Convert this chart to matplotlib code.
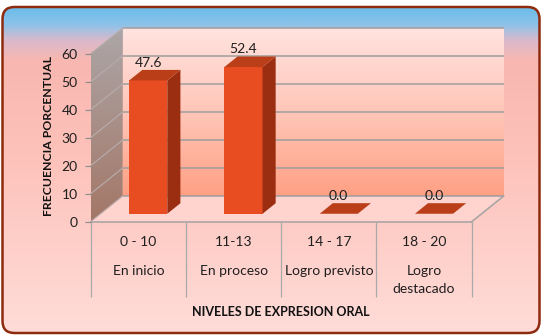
import numpy as np
import matplotlib
matplotlib.use('Agg')
import matplotlib.pyplot as plt
from matplotlib.patches import Polygon, FancyBboxPatch
from matplotlib.colors import LinearSegmentedColormap
import matplotlib.transforms as mtrans

# ---------------- data ----------------
categories = ["0 - 10", "11-13", "14 - 17", "18 - 20"]
levels = ["En inicio", "En proceso", "Logro previsto", "Logro\ndestacado"]
values = [47.6, 52.4, 0.0, 0.0]
yticks = [0, 10, 20, 30, 40, 50, 60]
x_title = "NIVELES DE EXPRESION ORAL"
y_title = "FRECUENCIA PORCENTUAL"

# ---------------- setup ----------------
W, H = 548, 336
DPI = 100
FS = 10
plt.rcParams['font.family'] = ['Lato', 'DejaVu Sans']
fig = plt.figure(figsize=(W / DPI, H / DPI), dpi=DPI)
fig.patch.set_facecolor('white')

bg = fig.add_axes([0, 0, 1, 1])
bg.axis('off')


def sy(y):
    return H - y


# outer rounded frame with gradient
fx0, fx1, fy0, fy1 = 2.5, 539.5, 7, 333
cmap_bg = LinearSegmentedColormap.from_list(
    'bg', [(0, '#6CBCEA'), (0.05, '#8AC3EA'), (0.10, '#D9B9CC'), (0.16, '#F8B7B0'),
           (0.45, '#FDC2BA'), (1, '#FFDCD8')])
grad = np.linspace(0, 1, 256).reshape(-1, 1)
im = bg.imshow(grad, cmap=cmap_bg, extent=(fx0, fx1, sy(fy1), sy(fy0)),
               aspect='auto', origin='upper', zorder=1, interpolation='bilinear')
clipf = FancyBboxPatch((fx0, sy(fy1)), fx1 - fx0, fy1 - fy0,
                       boxstyle="round,pad=0,rounding_size=12", fc='none', ec='none',
                       transform=bg.transData)
bg.add_patch(clipf)
im.set_clip_path(clipf)
bg.add_patch(FancyBboxPatch((fx0, sy(fy1)), fx1 - fx0, fy1 - fy0,
                            boxstyle="round,pad=0,rounding_size=12", fc='none',
                            ec='#8E2A0E', lw=1.8, zorder=20))

# data axes (front plane)
x0, x1 = 90.7, 471.7
y0s = 221.7
ymax = max(yticks)
ppu = 2.8
ax = fig.add_axes([x0 / W, (H - y0s) / H, (x1 - x0) / W, ymax * ppu / H])
ax.patch.set_visible(False)
for s in ax.spines.values():
    s.set_visible(False)
ncat = len(categories)
ax.set_xlim(0, ncat)
ax.set_ylim(0, ymax)

DX, DY = 32.0, 25.7
d0, d1 = 0.31, 0.72


def P(x, y, d):
    px, py = ax.transData.transform((x, y))
    return (px + d * DX, py + d * DY)


def poly(pts, **kw):
    return Polygon(pts, closed=True, transform=bg.transData, clip_on=False, **kw)


# back wall with gradient
bw_pts = [P(0, 0, 1), P(ncat, 0, 1), P(ncat, ymax, 1), P(0, ymax, 1)]
cmap_wall = LinearSegmentedColormap.from_list(
    'wall', [(0, '#FFE3DF'), (0.5, '#FFC6B8'), (1, '#FFA084')])
im2 = bg.imshow(grad, cmap=cmap_wall,
                extent=(bw_pts[0][0], bw_pts[1][0], bw_pts[0][1], bw_pts[2][1]),
                aspect='auto', origin='upper', zorder=2, interpolation='bilinear')
clipw = poly(bw_pts, fc='none', ec='none')
bg.add_patch(clipw)
im2.set_clip_path(clipw)

# side wall with gradient
sw_pts = [P(0, 0, 0), P(0, ymax, 0), P(0, ymax, 1), P(0, 0, 1)]
cmap_side = LinearSegmentedColormap.from_list('side', [(0, '#ACA6A7'), (1, '#A47767')])
im3 = bg.imshow(grad, cmap=cmap_side,
                extent=(sw_pts[0][0], sw_pts[2][0], sw_pts[0][1], sw_pts[2][1]),
                aspect='auto', origin='upper', zorder=2, interpolation='bilinear')
clips = poly(sw_pts, fc='none', ec='none')
bg.add_patch(clips)
im3.set_clip_path(clips)

# floor
fl_pts = [P(0, 0, 0), P(ncat, 0, 0), P(ncat, 0, 1), P(0, 0, 1)]
bg.add_patch(poly(fl_pts, fc='#FFD3CE', ec='none', zorder=3))

# gridlines on back & side walls
for v in yticks:
    a, b = P(0, v, 1), P(ncat, v, 1)
    bg.plot([a[0], b[0]], [a[1], b[1]], color='#9E9E9E', lw=1.1, zorder=4,
            solid_capstyle='butt')
    c = P(0, v, 0)
    bg.plot([c[0], a[0]], [c[1], a[1]], color='#B7ADAD', lw=0.8, zorder=4)
# floor edges
for (a, b) in [(P(0, 0, 0), P(ncat, 0, 0)), (P(ncat, 0, 0), P(ncat, 0, 1))]:
    bg.plot([a[0], b[0]], [a[1], b[1]], color='#A3A3A3', lw=1.1, zorder=4)

# bars (front faces)
xs = np.arange(ncat) + 0.5
bwid = 0.4
off = mtrans.ScaledTranslation(d0 * DX / DPI, d0 * DY / DPI, fig.dpi_scale_trans)
ax.bar(xs, values, width=bwid, color='#E84D22', transform=ax.transData + off,
       zorder=3, clip_on=False)
ax.set_xlim(0, ncat)
ax.set_ylim(0, ymax)

for xc, v in zip(xs, values):
    xl, xr = xc - bwid / 2, xc + bwid / 2
    side = [P(xr, 0, d0), P(xr, v, d0), P(xr, v, d1), P(xr, 0, d1)]
    top = [P(xl, v, d0), P(xr, v, d0), P(xr, v, d1), P(xl, v, d1)]
    ax.add_patch(poly(side, fc='#9B2E10', ec='none', zorder=3))
    ax.add_patch(poly(top, fc='#BA3E18', ec='none', zorder=3))
    lx = P(xc, v, d0)[0]
    ly = P(xc, v, d1)[1] + 7
    ax.text(lx, ly, f"{v:.1f}", transform=bg.transData, ha='center', va='center',
            fontsize=FS, color='#1E1E1E', zorder=6)

# y axis ticks
ax.set_yticks(yticks)
ax.tick_params(axis='y', length=6 * 0.72, width=0.8, color='#8C8C8C', pad=5.0,
               labelsize=FS, labelcolor='#1E1E1E')
# x axis separators
ax.set_xticks(np.arange(ncat + 1))
ax.tick_params(axis='x', length=75 * 0.72, width=0.9, color='#AAAAAA', labelbottom=False)

trans = mtrans.blended_transform_factory(ax.transData, bg.transData)
for xc, cat, lvl in zip(xs, categories, levels):
    ax.text(xc, sy(246.0), cat, transform=trans, ha='center', va='baseline',
            fontsize=FS, color='#1E1E1E')
    for k, line in enumerate(lvl.split('\n')):
        ax.text(xc, sy(275.0 + 18.4 * k), line, transform=trans, ha='center',
                va='baseline', fontsize=FS, color='#1E1E1E')

transx = mtrans.blended_transform_factory(ax.transAxes, bg.transData)
ax.text(0.5, sy(315.8), x_title, transform=transx, ha='center', va='baseline',
        fontsize=9, fontweight='bold', color='#111111')
bg.text(48.3, sy(135.5), y_title, rotation=90, ha='center', va='center',
        fontsize=8.8, fontweight='bold', color='#111111', zorder=6)

bg.set_xlim(0, W)
bg.set_ylim(0, H)

fig.savefig('out.png', dpi=DPI, facecolor='white')
